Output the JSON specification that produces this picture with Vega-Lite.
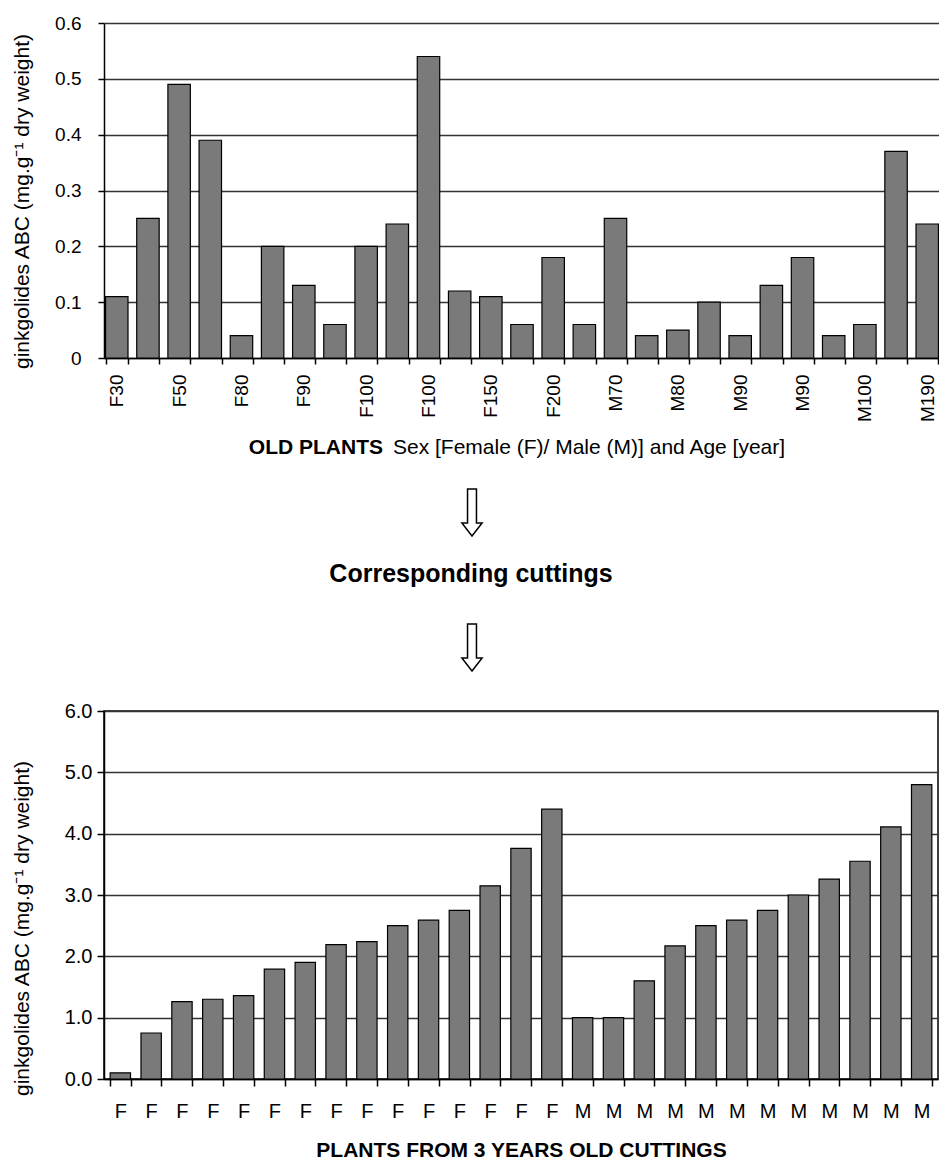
{
  "$schema": "https://vega.github.io/schema/vega-lite/v6.json",
  "background": "white",
  "padding": {"left": 10, "top": 14, "right": 0, "bottom": 0},
  "spacing": 0,
  "columns": 1,
  "config": {
    "view": {"stroke": null},
    "font": "Liberation Sans",
    "axis": {"labelFont": "Liberation Sans", "titleFont": "Liberation Sans", "labelColor": "black", "titleColor": "black", "domainColor": "black", "tickColor": "black", "gridColor": "#333333", "labelOverlap": false},
    "text": {"font": "Liberation Sans", "color": "black"}
  },
  "concat": [
    {
      "width": 836,
      "height": 335,
      "data": {"values": [
        {"key": "F30|1", "v": 0.11}, {"key": "|2", "v": 0.25}, {"key": "F50|3", "v": 0.49}, {"key": "|4", "v": 0.39},
        {"key": "F80|5", "v": 0.04}, {"key": "|6", "v": 0.20}, {"key": "F90|7", "v": 0.13}, {"key": "|8", "v": 0.06},
        {"key": "F100|9", "v": 0.20}, {"key": "|10", "v": 0.24}, {"key": "F100|11", "v": 0.54}, {"key": "|12", "v": 0.12},
        {"key": "F150|13", "v": 0.11}, {"key": "|14", "v": 0.06}, {"key": "F200|15", "v": 0.18}, {"key": "|16", "v": 0.06},
        {"key": "M70|17", "v": 0.25}, {"key": "|18", "v": 0.04}, {"key": "M80|19", "v": 0.05}, {"key": "|20", "v": 0.10},
        {"key": "M90|21", "v": 0.04}, {"key": "|22", "v": 0.13}, {"key": "M90|23", "v": 0.18}, {"key": "|24", "v": 0.04},
        {"key": "M100|25", "v": 0.06}, {"key": "|26", "v": 0.37}, {"key": "M190|27", "v": 0.24}
      ]},
      "mark": {"type": "bar", "fill": "#7a7a7a", "stroke": "black", "strokeWidth": 1.2},
      "encoding": {
        "x": {"field": "key", "type": "nominal", "sort": null,
          "scale": {"paddingInner": 0.28, "paddingOuter": 0.05},
          "axis": {"title": null, "labelAngle": 270, "labelExpr": "isString(datum.value) ? split(datum.value, '|')[0] : ''", "labelFontSize": 19, "labelPadding": 10, "tickSize": 6, "tickBand": "extent", "domainWidth": 1.5, "tickWidth": 1.5}},
        "y": {"field": "v", "type": "quantitative", "scale": {"domain": [0, 0.6], "nice": false},
          "axis": {"title": "ginkgolides ABC (mg.g⁻¹ dry weight)", "values": [0, 0.1, 0.2, 0.3, 0.4, 0.5, 0.6], "format": ".1~f", "labelFontSize": 19, "labelPadding": 17, "tickSize": 6, "tickWidth": 1.5, "titleFontSize": 21, "titleFontWeight": "normal", "titlePadding": 22, "titleY": 178, "grid": true, "gridWidth": 1.5, "domainWidth": 1.5}}
      }
    },
    {
      "width": 558,
      "height": 51,
      "layer": [
        {"data": {"values": [{"t": "OLD PLANTS"}]},
         "mark": {"type": "text", "align": "right", "baseline": "middle", "fontWeight": "bold", "fontSize": 21},
         "encoding": {"text": {"field": "t"}}},
        {"data": {"values": [{"t": "Sex [Female (F)/ Male (M)] and Age [year]"}]},
         "mark": {"type": "text", "align": "left", "baseline": "middle", "fontSize": 21, "dx": 10},
         "encoding": {"text": {"field": "t"}}}
      ]
    },
    {
      "width": 736,
      "height": 79,
      "data": {"values": [{"a": "down"}]},
      "mark": {"type": "point", "shape": "M-0.19,-1L0.19,-1L0.19,0.45L0.43,0.45L0,1L-0.43,0.45L-0.19,0.45Z", "size": 2209, "filled": true, "fill": "white", "stroke": "black", "strokeWidth": 1.5, "opacity": 1},
      "encoding": {}
    },
    {
      "width": 734,
      "height": 43,
      "data": {"values": [{"t": "Corresponding cuttings"}]},
      "mark": {"type": "text", "baseline": "middle", "fontWeight": "bold", "fontSize": 25},
      "encoding": {"text": {"field": "t"}}
    },
    {
      "width": 736,
      "height": 105,
      "data": {"values": [{"a": "down"}]},
      "mark": {"type": "point", "shape": "M-0.19,-1L0.19,-1L0.19,0.45L0.43,0.45L0,1L-0.43,0.45L-0.19,0.45Z", "size": 2209, "filled": true, "fill": "white", "stroke": "black", "strokeWidth": 1.5, "opacity": 1},
      "encoding": {}
    },
    {
      "width": 834,
      "height": 368,
      "view": {"stroke": "black", "strokeWidth": 1.5},
      "data": {"values": [
        {"key": "F|1", "v": 0.10}, {"key": "F|2", "v": 0.75}, {"key": "F|3", "v": 1.26}, {"key": "F|4", "v": 1.30},
        {"key": "F|5", "v": 1.36}, {"key": "F|6", "v": 1.79}, {"key": "F|7", "v": 1.90}, {"key": "F|8", "v": 2.19},
        {"key": "F|9", "v": 2.24}, {"key": "F|10", "v": 2.50}, {"key": "F|11", "v": 2.59}, {"key": "F|12", "v": 2.75},
        {"key": "F|13", "v": 3.15}, {"key": "F|14", "v": 3.76}, {"key": "F|15", "v": 4.40},
        {"key": "M|16", "v": 1.00}, {"key": "M|17", "v": 1.00}, {"key": "M|18", "v": 1.60}, {"key": "M|19", "v": 2.17},
        {"key": "M|20", "v": 2.50}, {"key": "M|21", "v": 2.59}, {"key": "M|22", "v": 2.75}, {"key": "M|23", "v": 3.00},
        {"key": "M|24", "v": 3.26}, {"key": "M|25", "v": 3.55}, {"key": "M|26", "v": 4.11}, {"key": "M|27", "v": 4.80}
      ]},
      "mark": {"type": "bar", "fill": "#7a7a7a", "stroke": "black", "strokeWidth": 1.2},
      "encoding": {
        "x": {"field": "key", "type": "nominal", "sort": null,
          "scale": {"paddingInner": 0.34, "paddingOuter": 0.2},
          "axis": {"title": "PLANTS FROM 3 YEARS OLD CUTTINGS", "titleFontSize": 21, "titleFontWeight": "bold", "titlePadding": 18, "labelAngle": 0, "labelExpr": "isString(datum.value) ? split(datum.value, '|')[0] : ''", "labelFontSize": 20, "labelPadding": 15, "tickSize": 7, "tickBand": "extent", "domainWidth": 1.5, "tickWidth": 1.5}},
        "y": {"field": "v", "type": "quantitative", "scale": {"domain": [0, 6], "nice": false},
          "axis": {"title": "ginkgolides ABC (mg.g⁻¹ dry weight)", "values": [0, 1, 2, 3, 4, 5, 6], "format": ".1f", "labelFontSize": 20, "labelPadding": 5, "tickSize": 7, "tickWidth": 1.5, "titleFontSize": 21, "titleFontWeight": "normal", "titlePadding": 32, "titleY": 217, "grid": true, "gridWidth": 1.5, "domainWidth": 1.5}}
      }
    }
  ]
}
